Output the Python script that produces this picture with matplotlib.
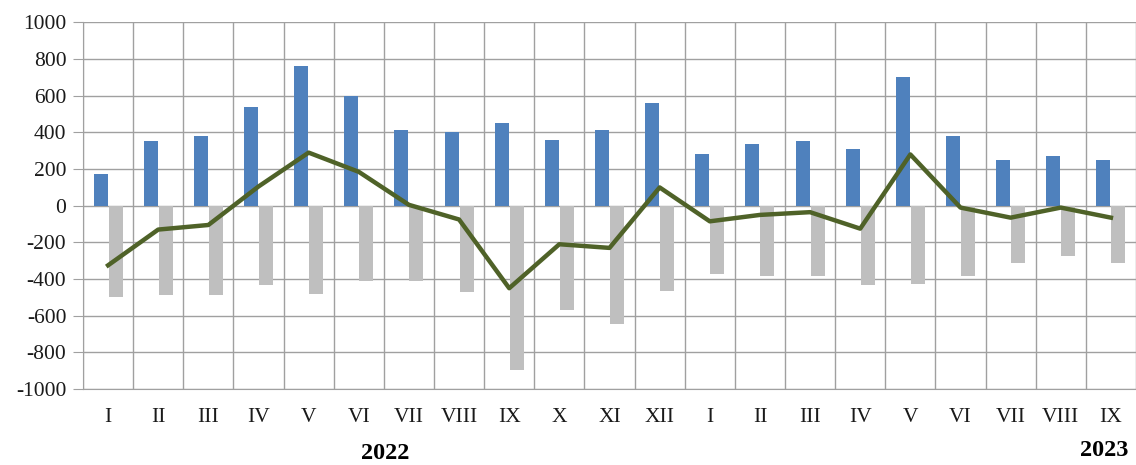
import numpy as np
import matplotlib.pyplot as plt

# --- dados ---
meses = ['I', 'II', 'III', 'IV', 'V', 'VI', 'VII', 'VIII', 'IX', 'X', 'XI', 'XII',
         'I', 'II', 'III', 'IV', 'V', 'VI', 'VII', 'VIII', 'IX']
positivos = [175, 355, 380, 540, 765, 600, 415, 400, 450, 360, 415, 560,
             280, 335, 355, 310, 705, 380, 250, 270, 250]
negativos = [-500, -485, -485, -435, -480, -410, -410, -470, -895, -570, -645, -465,
             -370, -385, -385, -435, -425, -385, -310, -275, -310]
saldo = [-325, -130, -105, 105, 290, 185, 5, -75, -450, -210, -230, 100,
         -85, -50, -35, -125, 280, -10, -65, -10, -65]
anos = ['2022', '2023']

plt.rcParams['font.family'] = ['Liberation Serif', 'DejaVu Serif']
plt.rcParams['axes.unicode_minus'] = False

x = np.arange(len(meses))
largura = 0.28

fig = plt.figure(figsize=(11.36, 4.65), dpi=100)
ax = fig.add_axes([83 / 1136, 1 - 389 / 465, 1 - 83 / 1136, (389 - 22.5) / 465])

ax.bar(x - 0.15, positivos, largura, color='#4F81BD', zorder=3)
ax.bar(x + 0.15, negativos, largura, color='#BFBFBF', zorder=3)
ax.plot(x, saldo, color='#4F6228', linewidth=3.2, zorder=4)

ax.set_ylim(-1000, 1000)
ax.set_yticks(np.arange(-1000, 1001, 200))
ax.set_xlim(-0.5, 20.31)
ax.set_xticks(x)
ax.set_xticklabels(meses)
ax.set_xticks(np.arange(-0.5, 21, 1), minor=True)

# grade
ax.grid(True, axis='y', which='major', color='#A0A0A0', linewidth=1, zorder=0)
ax.grid(True, axis='x', which='minor', color='#A0A0A0', linewidth=1, zorder=0)
for s in ax.spines.values():
    s.set_visible(False)
ax.spines['left'].set_visible(True)
ax.spines['left'].set_color('#A0A0A0')
ax.spines['bottom'].set_visible(True)
ax.spines['bottom'].set_color('#A0A0A0')

ax.tick_params(axis='y', which='major', length=7, color='#A0A0A0', labelsize=15.5,
               pad=5, labelcolor='#1a1a1a')
ax.tick_params(axis='x', which='major', length=0, labelsize=15.5, pad=14,
               labelcolor='#1a1a1a')
ax.tick_params(axis='x', which='minor', length=0)

# rótulos dos anos
fig.text(385 / 1136, 1 - 453 / 465, anos[0], ha='center', va='center',
         fontsize=17.5, fontweight='bold')
fig.text(1128 / 1136, 1 - 450 / 465, anos[1], ha='right', va='center',
         fontsize=17.5, fontweight='bold')

fig.savefig('out.png', dpi=100)
